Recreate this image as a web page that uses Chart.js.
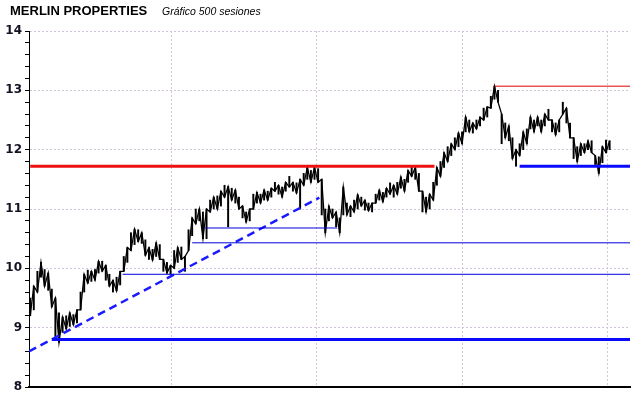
<!DOCTYPE html>
<html><head><meta charset="utf-8">
<script src="https://cdn.jsdelivr.net/npm/chart.js@4.4.1/dist/chart.umd.min.js"></script>
<style>
html,body{margin:0;padding:0;background:#fff;}
#wrap{position:relative;width:640px;height:398px;overflow:hidden;}
canvas{position:absolute;left:0;top:0;}
#t1{position:absolute;left:10px;top:4px;font:bold 13px/13px "Liberation Sans",Arial,sans-serif;color:#000;white-space:nowrap;}
#t2{position:absolute;left:162px;top:6px;font:italic 10.5px/10.5px "Liberation Sans",Arial,sans-serif;color:#000;white-space:nowrap;}
</style></head><body>
<div id="wrap"><canvas id="c" width="640" height="398"></canvas><div id="t1"></div><div id="t2"></div></div>
<script>
const titleText = 'MERLIN PROPERTIES';
const subtitleText = 'Gráfico 500 sesiones';

// price ranges, one sample every 3 sessions
const lows = [9.2,9.3,9.6,9.85,9.7,9.63,9.35,8.85,8.75,8.92,
8.98,9.02,9.05,9.08,9.3,9.6,9.75,9.78,9.8,9.92,
9.95,9.8,9.7,9.6,9.62,9.72,9.95,10.1,10.3,10.4,
10.45,10.42,10.22,10.15,10.14,10.2,10.15,9.95,9.92,9.9,
10.0,10.1,10.15,9.95,10.3,10.55,10.75,10.8,10.5,10.5,
10.95,11.0,11.0,11.05,11.2,10.7,11.15,11.1,11.0,10.85,
10.78,10.8,11.0,11.1,11.1,11.15,11.15,11.2,11.3,11.25,
11.2,11.3,11.37,11.3,11.27,11.0,11.4,11.5,11.45,11.5,
11.45,10.9,10.6,10.8,10.85,10.7,10.6,10.9,10.9,10.87,
10.95,11.0,11.05,10.98,10.97,10.95,11.1,11.15,11.12,11.2,
11.25,11.2,11.25,11.35,11.3,11.45,11.55,11.5,11.3,10.95,
10.95,11.0,11.15,11.4,11.55,11.7,11.8,11.9,12.0,12.05,
12.1,12.3,12.3,12.28,12.35,12.4,12.5,12.55,12.7,12.85,
12.8,12.1,12.2,12.15,11.85,11.72,11.9,12.0,12.1,12.35,
12.3,12.4,12.3,12.4,12.5,12.3,12.25,12.3,12.6,12.45,
12.2,11.85,11.8,11.9,11.95,12.0,11.95,11.75,11.6,11.78,
11.95,12.0];
const highs = [9.5,9.7,9.95,10.1,9.98,9.92,9.65,9.5,9.25,9.18,
9.2,9.25,9.22,9.3,9.6,9.9,9.97,9.95,9.98,10.12,
10.12,10.05,9.9,9.8,9.85,9.95,10.2,10.35,10.6,10.66,
10.65,10.6,10.48,10.35,10.32,10.43,10.4,10.15,10.1,10.05,
10.3,10.35,10.36,10.2,10.65,10.85,11.0,11.0,10.95,11.0,
11.15,11.2,11.22,11.3,11.4,11.38,11.35,11.32,11.2,11.05,
10.95,11.0,11.25,11.28,11.25,11.32,11.3,11.35,11.45,11.4,
11.37,11.45,11.55,11.45,11.44,11.5,11.6,11.7,11.65,11.7,
11.68,11.5,11.0,11.05,11.0,10.95,10.85,11.37,11.1,11.05,
11.15,11.24,11.2,11.15,11.1,11.1,11.25,11.32,11.28,11.35,
11.44,11.4,11.45,11.54,11.5,11.65,11.72,11.7,11.6,11.3,
11.2,11.25,11.45,11.7,11.8,11.95,12.05,12.1,12.2,12.28,
12.3,12.55,12.5,12.45,12.5,12.55,12.7,12.72,12.9,13.07,
13.0,12.6,12.45,12.4,12.2,12.0,12.1,12.3,12.35,12.55,
12.5,12.55,12.5,12.6,12.68,12.5,12.45,12.5,12.8,12.7,
12.45,12.2,12.05,12.1,12.1,12.15,12.15,11.9,11.88,12.05,
12.16,12.15];
const sessionStep = 3;
const sessions = lows.map((_, i) => i * sessionStep);

// y axis
const yMin = 8, yMax = 14, yMinorStep = 0.2;
// x axis (sessions)
const xMin = -1, xMax = 500;
const xGridSessions = [118, 239, 360, 481];

// support / resistance levels: value, start session, end session
const redLevel = [11.72, 0, 337];
const redThinLevel = [13.07, 387, 500];
const blueThickLow = [8.8, 18, 500];
const blueThickHigh = [11.72, 408, 500];
const blueThin1 = [10.43, 135, 500];
const blueThin2 = [9.9, 77, 500];
const blueThin3 = [10.68, 146, 256];
// trend line: [startSession, startValue, endSession, endValue]
const trendLine = [-1, 8.6, 241, 11.19];

document.getElementById('t1').textContent = titleText;
document.getElementById('t2').textContent = subtitleText;

function level(arr, color, width, dash) {
  return {
    type: 'line',
    data: [{x: arr[1], y: arr[0]}, {x: arr[2], y: arr[0]}],
    borderColor: color, borderWidth: width, borderDash: dash || [],
    pointRadius: 0, fill: false, order: 0
  };
}

const isInt = v => Math.abs(v - Math.round(v)) < 1e-6;

new Chart(document.getElementById('c'), {
  type: 'bar',
  data: {
    datasets: [
      {
        // price path: alternates through each sample's low and high
        type: 'line',
        data: sessions.map((s, i) => ({x: s, y: (i % 2) ? highs[i] : lows[i]})),
        borderColor: '#000', borderWidth: 1.3, pointRadius: 0, fill: false,
        tension: 0, order: 11
      },
      {
        type: 'bar',
        data: sessions.map((s, i) => ({x: s, y: [lows[i], highs[i]]})),
        backgroundColor: '#000', borderWidth: 0,
        barThickness: 1.3, grouped: false, order: 10
      },
      level(redLevel, '#ee1111', 3),
      level(redThinLevel, '#dd0000', 1),
      level(blueThickLow, '#0a0aff', 3),
      level(blueThickHigh, '#0a0aff', 3),
      level(blueThin1, '#0000dd', 1),
      level(blueThin2, '#0000dd', 1),
      level(blueThin3, '#0000dd', 1),
      {
        type: 'line',
        data: [{x: trendLine[0], y: trendLine[1]}, {x: trendLine[2], y: trendLine[3]}],
        borderColor: '#1a1aff', borderWidth: 2.5, borderDash: [8, 5],
        pointRadius: 0, fill: false, order: 0
      }
    ]
  },
  options: {
    responsive: false, animation: false,
    layout: {padding: {top: 31, right: 10, bottom: 11, left: 0}},
    plugins: {legend: {display: false}, tooltip: {enabled: false}},
    scales: {
      x: {
        type: 'linear', min: xMin, max: xMax, offset: false,
        afterBuildTicks: s => { s.ticks = xGridSessions.map(v => ({value: v})); },
        afterFit: s => { s.height = 0; },
        ticks: {display: false},
        grid: {color: '#d4c4dc', drawTicks: false, tickLength: 0, offset: false},
        border: {display: true, color: '#000', width: 2, dash: [2, 2]}
      },
      y: {
        min: yMin, max: yMax,
        afterBuildTicks: s => {
          const t = [];
          for (let v = yMin; v <= yMax + 1e-9; v += yMinorStep) t.push({value: Math.round(v * 10) / 10});
          s.ticks = t;
        },
        afterFit: s => { s.width = 29; },
        ticks: {
          autoSkip: false, padding: 3, color: '#111122',
          font: {family: '"DejaVu Sans", Verdana, sans-serif', size: 12, weight: 'bold'},
          callback: v => isInt(v) ? String(Math.round(v)) : ''
        },
        grid: {
          tickLength: 4, tickColor: '#000',
          color: c => (c.tick && isInt(c.tick.value) && c.tick.value > yMin) ? '#d4c4dc' : 'rgba(0,0,0,0)'
        },
        border: {display: true, color: '#000', width: 1, dash: [2, 2]}
      }
    }
  }
});
</script>
</body></html>
